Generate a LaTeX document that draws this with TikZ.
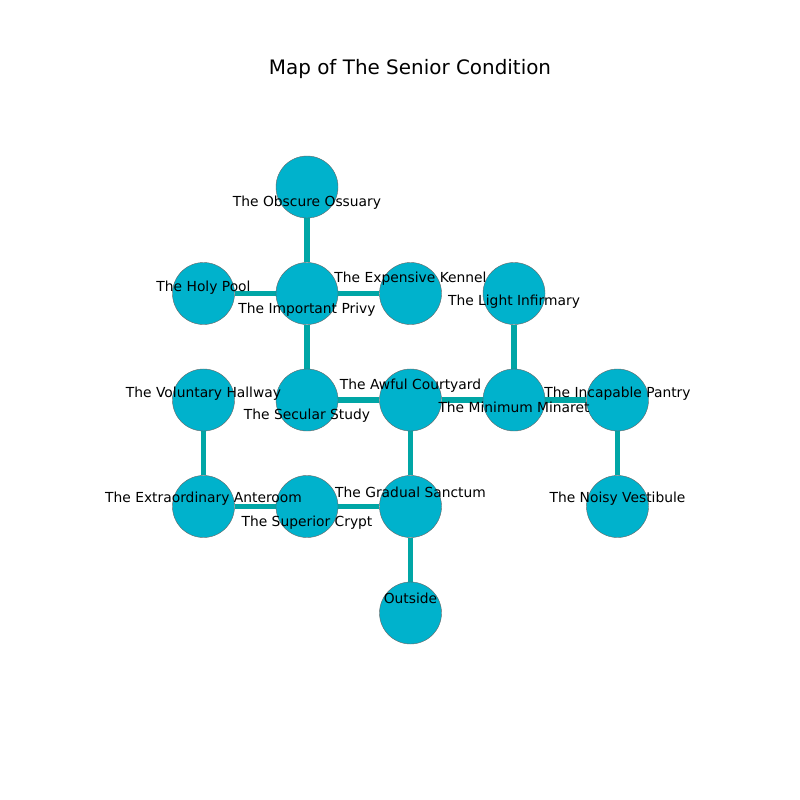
\documentclass[tikz,border=0pt]{standalone}
\usepackage{fontspec}
\setmainfont{DejaVu Sans}
\usepackage{tikz}
\usetikzlibrary{positioning,backgrounds}

\definecolor{roomfill}{RGB}{0,178,204}
\definecolor{roomline}{RGB}{0,166,166}
\tikzset{
  room/.style={circle,fill=roomfill,draw=black!60,line width=0.3pt,minimum size=1.575cm,inner sep=0pt},
  tag/.style={inner sep=0pt,font=\fontsize{10}{12}\selectfont},
  passage/.style={draw=roomline,line width=4pt}
}

\begin{document}
\begin{tikzpicture}[node distance=2.705cm and 2.629cm,on grid]
   \useasboundingbox (-7.798,4.750) rectangle (12.522,-15.570);
   \node[font=\fontsize{14.4}{16}\selectfont] (title) at (2.616,3.0) {Map of The Senior Condition};

   \node[room] (ossuary)   {};
   \node[room] (privy)     [below =of ossuary] {};
   \node[room] (pool)      [left =of privy] {};
   \node[room] (kennel)    [right =of privy] {};
   \node[room] (infirmary) [right =of kennel] {};
   \node[room] (study)     [below =of privy] {};
   \node[room] (hallway)   [left =of study] {};
   \node[room] (courtyard) [right =of study] {};
   \node[room] (minaret)   [right =of courtyard] {};
   \node[room] (pantry)    [right =of minaret] {};
   \node[room] (crypt)     [below =of study] {};
   \node[room] (anteroom)  [left =of crypt] {};
   \node[room] (sanctum)   [right =of crypt] {};
   \node[room] (vestibule) [below =of pantry] {};
   \node[room] (outside)   [below =of sanctum] {};

   \begin{scope}[on background layer]
    \path[passage]
    (ossuary) edge (privy)
    (pool) edge (privy)
    (privy) edge (kennel)
           edge (study)
    (study) edge (courtyard)
    (courtyard) edge (minaret)
                edge (sanctum)
    (minaret) edge (infirmary)
              edge (pantry)
    (pantry) edge (vestibule)
    (hallway) edge (anteroom)
    (anteroom) edge (crypt)
    (crypt) edge (sanctum)
    (sanctum) edge (outside);
   \end{scope}

   \node[tag,yshift=-0.40cm] (t_ossuary) at (ossuary) {The Obscure Ossuary};
   \node[tag,yshift=0.14cm] (t_pool) at (pool) {The Holy Pool};
   \node[tag,yshift=-0.40cm] (t_privy) at (privy) {The Important Privy};
   \node[tag,yshift=0.37cm] (t_kennel) at (kennel) {The Expensive Kennel};
   \node[tag,yshift=-0.22cm] (t_infirmary) at (infirmary) {The Light Infirmary};
   \node[tag,yshift=0.16cm] (t_hallway) at (hallway) {The Voluntary Hallway};
   \node[tag,yshift=-0.40cm] (t_study) at (study) {The Secular Study};
   \node[tag,yshift=0.37cm] (t_courtyard) at (courtyard) {The Awful Courtyard};
   \node[tag,yshift=-0.19cm] (t_minaret) at (minaret) {The Minimum Minaret};
   \node[tag,yshift=0.16cm] (t_pantry) at (pantry) {The Incapable Pantry};
   \node[tag,yshift=0.19cm] (t_anteroom) at (anteroom) {The Extraordinary Anteroom};
   \node[tag,yshift=-0.40cm] (t_crypt) at (crypt) {The Superior Crypt};
   \node[tag,yshift=0.37cm] (t_sanctum) at (sanctum) {The Gradual Sanctum};
   \node[tag,yshift=0.19cm] (t_vestibule) at (vestibule) {The Noisy Vestibule};
   \node[tag,yshift=0.37cm] (t_outside) at (outside) {Outside};
\end{tikzpicture}
\end{document}
